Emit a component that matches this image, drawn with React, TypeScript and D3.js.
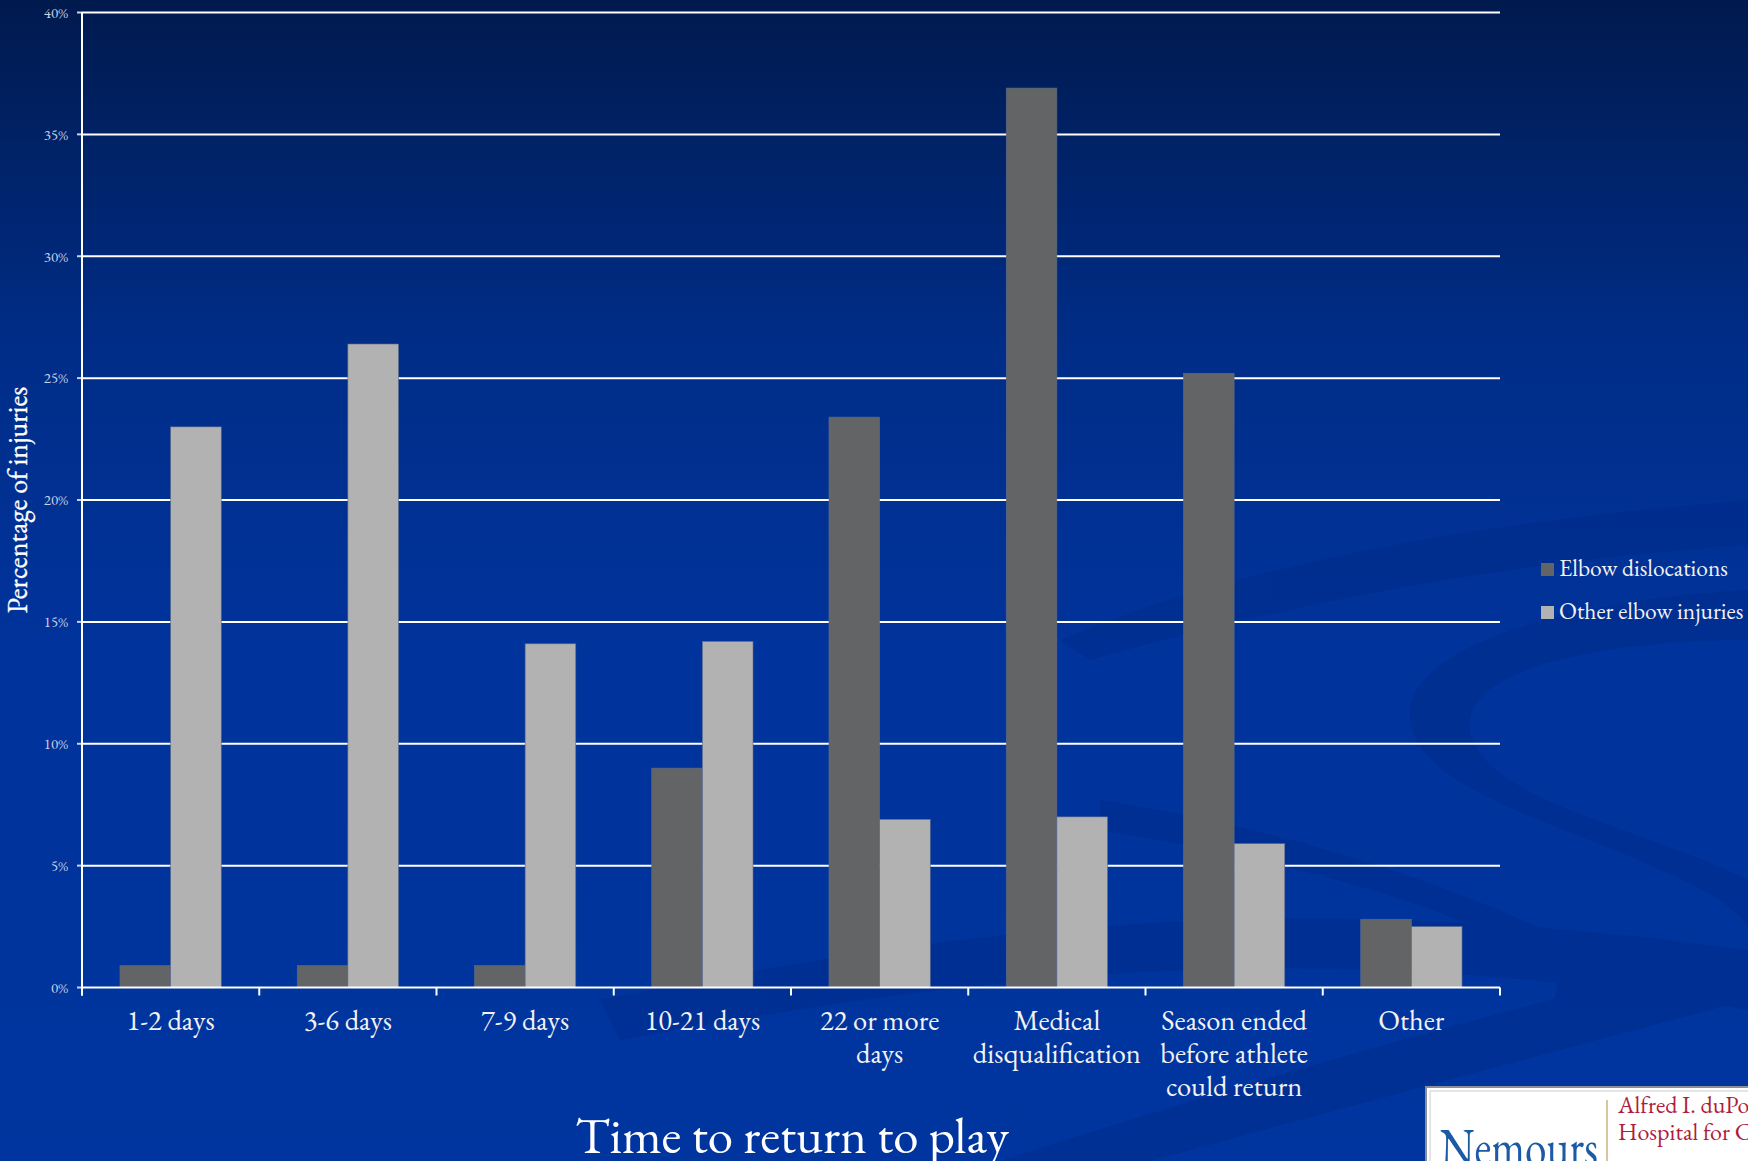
import * as d3 from "d3";

const categories = [
  "1-2 days",
  "3-6 days",
  "7-9 days",
  "10-21 days",
  "22 or more\ndays",
  "Medical\ndisqualification",
  "Season ended\nbefore athlete\ncould return",
  "Other",
];
const seriesNames = ["Elbow dislocations", "Other elbow injuries"];
const elbowDislocations = [0.009, 0.009, 0.009, 0.09, 0.234, 0.369, 0.252, 0.028];
const otherElbowInjuries = [0.23, 0.264, 0.141, 0.142, 0.069, 0.07, 0.059, 0.025];
const yTicks = [0, 0.05, 0.1, 0.15, 0.2, 0.25, 0.3, 0.35, 0.4];
const seriesColors = ["#636466", "#b2b2b2"];

const W = 1748;
const H = 1161;
const FONT = "Garamond, 'EB Garamond', 'Liberation Serif', 'DejaVu Serif', serif";

export default function App() {
  const left = 82;
  const right = 1500;
  const top = 12.5;
  const bottom = 987.5;

  const y = d3.scaleLinear().domain([0, 0.4]).range([bottom, top]);
  const x0 = d3.scaleBand<string>().domain(categories).range([left, right]).padding(0);
  const x1 = d3
    .scaleBand<string>()
    .domain(seriesNames)
    .range([0, x0.bandwidth()])
    .paddingInner(0)
    .paddingOuter(0.75);
  const fmt = d3.format(".0%");
  const values = [elbowDislocations, otherElbowInjuries];

  return (
    <div style={{ position: "fixed", left: 0, top: 0, width: W, height: H }}>
      <svg width={W} height={H} style={{ display: "block" }} fontFamily={FONT}>
        <defs>
          <linearGradient id="bg" x1="0" y1="0" x2="0" y2="1">
            <stop offset="0" stopColor="#001a4e" />
            <stop offset="0.3" stopColor="#002d88" />
            <stop offset="0.55" stopColor="#00339b" />
            <stop offset="1" stopColor="#00359f" />
          </linearGradient>
        </defs>
        <rect width={W} height={H} fill="url(#bg)" />

        {/* faint swirl decoration */}
        <g fill="#002a86" opacity={0.4}>
          <path d="M1060,640 C1250,560 1500,520 1748,500 L1748,545 C1520,560 1300,600 1090,660 Z" />
          <path d="M1748,590 C1560,600 1400,650 1410,720 C1420,800 1600,830 1720,900 C1740,915 1748,925 1748,930 L1748,880 C1650,830 1480,800 1470,730 C1460,670 1600,640 1748,640 Z" />
          <path d="M600,1000 C900,940 1250,880 1748,950 L1748,1010 C1300,930 950,980 620,1040 Z" />
          <path d="M1000,1161 C1250,1080 1500,1010 1748,950 L1748,1000 C1520,1060 1300,1120 1150,1161 Z" />
          <path d="M1100,800 C1300,830 1500,900 1600,960 C1630,1000 1560,1050 1440,1080 C1550,1030 1580,990 1540,960 C1440,900 1280,860 1100,830 Z" />
        </g>

        {/* gridlines */}
        {yTicks.map((t) => (
          <g key={t}>
            {t > 0 && (
              <line x1={left} x2={right} y1={y(t)} y2={y(t)} stroke="#ffffff" strokeWidth={2} />
            )}
            <line x1={left - 5} x2={left} y1={y(t)} y2={y(t)} stroke="#c9d2e6" strokeWidth={2} />
            <text
              x={left - 14}
              y={y(t)}
              dy="0.35em"
              textAnchor="end"
              fontSize={15}
              fill="#c9d2e6"
            >
              {fmt(t)}
            </text>
          </g>
        ))}

        {/* bars */}
        {categories.map((c, i) => (
          <g key={c} transform={`translate(${x0(c)},0)`}>
            {seriesNames.map((s, j) => (
              <rect
                key={s}
                x={x1(s)}
                y={y(values[j][i])}
                width={x1.bandwidth()}
                height={y(0) - y(values[j][i])}
                fill={seriesColors[j]}
                stroke="#5a6a8a"
                strokeWidth={0.6}
              />
            ))}
          </g>
        ))}

        {/* axes */}
        <line x1={left} x2={left} y1={top} y2={bottom + 8} stroke="#ffffff" strokeWidth={2} />
        <line x1={left} x2={right} y1={bottom} y2={bottom} stroke="#ffffff" strokeWidth={2} />
        {categories.concat(["end"]).map((c, i) => {
          const xx = left + i * x0.step();
          return (
            <line key={"tk" + i} x1={xx} x2={xx} y1={bottom} y2={bottom + 8} stroke="#ffffff" strokeWidth={2} />
          );
        })}

        {/* category labels */}
        {categories.map((c) => (
          <text
            key={"lbl" + c}
            x={(x0(c) as number) + x0.bandwidth() / 2}
            y={1030}
            textAnchor="middle"
            fontSize={28.5}
            fill="#f2f2f2"
          >
            {c.split("\n").map((line, k) => (
              <tspan key={k} x={(x0(c) as number) + x0.bandwidth() / 2} dy={k === 0 ? 0 : 33}>
                {line}
              </tspan>
            ))}
          </text>
        ))}

        {/* axis titles */}
        <text
          transform={`translate(27,${(top + bottom) / 2}) rotate(-90)`}
          textAnchor="middle"
          fontSize={28}
          fill="#ffffff"
          stroke="#ffffff"
          strokeWidth={0.3}
        >
          Percentage of injuries
        </text>
        <text x={792} y={1153} textAnchor="middle" fontSize={51} fill="#ffffff">
          Time to return to play
        </text>

        {/* legend */}
        {seriesNames.map((s, j) => (
          <g key={"lg" + s} transform={`translate(1541,${563 + j * 43})`}>
            <rect width={13} height={13} fill={seriesColors[j]} />
            <text x={18} y={13} fontSize={23.5} fill="#f2f2f2">
              {s}
            </text>
          </g>
        ))}

        {/* logo */}
        <g>
          <rect x={1426} y={1087} width={340} height={100} fill="#ffffff" stroke="#8a8f96" strokeWidth={2} />
          <rect x={1430} y={1091} width={340} height={100} fill="none" stroke="#c9ccd0" strokeWidth={1} />
          <text
            x={1440}
            y={1166}
            fontSize={56}
            fill="#1d5aa6"
            textLength={158}
            lengthAdjust="spacingAndGlyphs"
          >
            Nemours
          </text>
          <line x1={1607} x2={1607} y1={1100} y2={1161} stroke="#d8c6a0" strokeWidth={2} />
          <text x={1618} y={1113} fontSize={24} fill="#b01c3c">
            Alfred I. duPont
          </text>
          <text x={1618} y={1140} fontSize={24} fill="#b01c3c">
            Hospital for Children
          </text>
        </g>
      </svg>
    </div>
  );
}
